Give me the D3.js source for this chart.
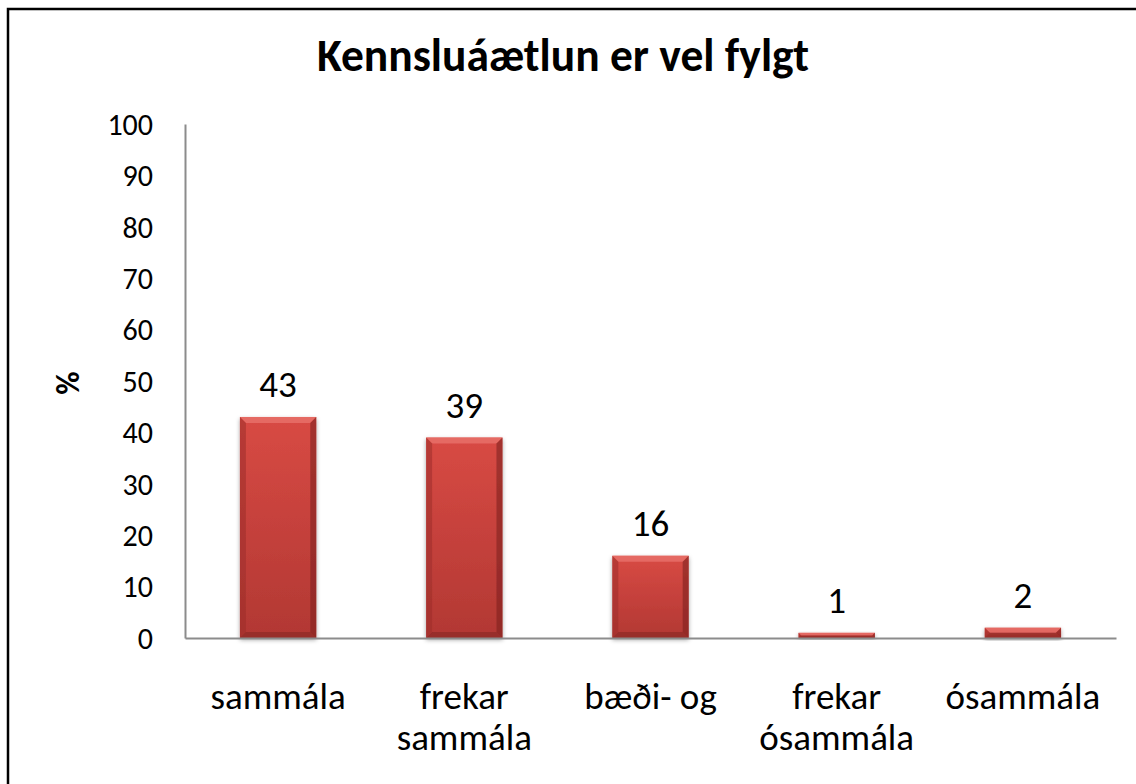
<!DOCTYPE html>
<html>
<head>
<meta charset="utf-8">
<script src="https://cdn.jsdelivr.net/npm/d3@7"></script>
<style>
  html, body { margin: 0; padding: 0; background: #fff; }
  svg { display: block; font-family: Carlito, Lato, 'Open Sans', sans-serif; }
</style>
</head>
<body>
<div id="wrapper"></div>
<script>
// data
const categories = ['sammála', 'frekar sammála', 'bæði- og', 'frekar ósammála', 'ósammála'];
const categoryLines = [['sammála'], ['frekar', 'sammála'], ['bæði- og'], ['frekar', 'ósammála'], ['ósammála']];
const values = [43, 39, 16, 1, 2];
const yTicks = [0, 10, 20, 30, 40, 50, 60, 70, 80, 90, 100];
const title = 'Kennsluáætlun er vel fylgt';
const yLabel = '%';

// dimensions
const dimensions = {
  width: 1136,
  height: 784,
  margin: { top: 124, right: 20, bottom: 146, left: 185 },
};
dimensions.boundedWidth = dimensions.width - dimensions.margin.left - dimensions.margin.right;
dimensions.boundedHeight = dimensions.height - dimensions.margin.top - dimensions.margin.bottom;

const svg = d3.select('#wrapper').append('svg')
  .attr('width', dimensions.width)
  .attr('height', dimensions.height);

// outer frame
svg.append('rect')
  .attr('x', 8).attr('y', 9)
  .attr('width', 1200).attr('height', 900)
  .attr('fill', 'none').attr('stroke', '#000').attr('stroke-width', 2.5);

const defs = svg.append('defs');
const grad = defs.append('linearGradient').attr('id', 'barGrad')
  .attr('x1', 0).attr('y1', 0).attr('x2', 0).attr('y2', 1);
grad.append('stop').attr('offset', '0%').attr('stop-color', '#d84a44');
grad.append('stop').attr('offset', '100%').attr('stop-color', '#b23833');
const shadow = defs.append('filter').attr('id', 'shadow')
  .attr('x', '-20%').attr('y', '-20%').attr('width', '140%').attr('height', '140%');
shadow.append('feDropShadow').attr('dx', 0).attr('dy', 2).attr('stdDeviation', 2)
  .attr('flood-color', '#000').attr('flood-opacity', 0.35);

const bounds = svg.append('g')
  .attr('transform', `translate(${dimensions.margin.left},${dimensions.margin.top})`);

// scales
const xScale = d3.scaleBand()
  .domain(categories)
  .range([0, dimensions.boundedWidth])
  .paddingInner(0.59)
  .paddingOuter(0.295);

const yScale = d3.scaleLinear()
  .domain([0, 100])
  .range([dimensions.boundedHeight, 0]);

// bars with bevel
const bw = xScale.bandwidth();
const bars = bounds.selectAll('.bar')
  .data(values)
  .enter().append('g')
  .attr('class', 'bar')
  .attr('transform', (d, i) => `translate(${xScale(categories[i])},${yScale(d)})`)
  .attr('filter', 'url(#shadow)');

bars.append('rect')
  .attr('width', bw)
  .attr('height', (d) => yScale(0) - yScale(d))
  .attr('fill', 'url(#barGrad)');

bars.each(function (d) {
  const h = yScale(0) - yScale(d);
  const b = Math.min(6, h / 2);
  const g = d3.select(this);
  // top bevel
  g.append('path')
    .attr('d', `M0,0 L${bw},0 L${bw - b},${b} L${b},${b} Z`)
    .attr('fill', '#e8726b').attr('opacity', 0.8);
  // left bevel
  g.append('path')
    .attr('d', `M0,0 L${b},${b} L${b},${h - b} L0,${h} Z`)
    .attr('fill', '#9c2e2a').attr('opacity', 0.55);
  // right bevel
  g.append('path')
    .attr('d', `M${bw},0 L${bw - b},${b} L${bw - b},${h - b} L${bw},${h} Z`)
    .attr('fill', '#7e221f').attr('opacity', 0.6);
  // bottom bevel
  g.append('path')
    .attr('d', `M0,${h} L${b},${h - b} L${bw - b},${h - b} L${bw},${h} Z`)
    .attr('fill', '#7e221f').attr('opacity', 0.5);
});

// value labels
bounds.selectAll('.value-label')
  .data(values)
  .enter().append('text')
  .attr('class', 'value-label')
  .attr('x', (d, i) => xScale(categories[i]) + bw / 2)
  .attr('y', (d) => yScale(d) - 20)
  .attr('text-anchor', 'middle')
  .attr('font-size', 37)
  .attr('fill', '#000')
  .text((d) => d);

// axes
const yAxis = bounds.append('g')
  .call(d3.axisLeft(yScale).tickValues(yTicks).tickSize(0).tickPadding(32));
yAxis.attr('font-family', null).attr('font-size', null);
yAxis.select('.domain').attr('stroke', '#8c8c8c').attr('stroke-width', 2);
yAxis.selectAll('text').attr('font-size', 30).attr('fill', '#000').attr('dy', '0.34em');

const xAxis = bounds.append('g')
  .attr('transform', `translate(0,${dimensions.boundedHeight})`)
  .call(d3.axisBottom(xScale).tickSize(0).tickFormat(''));
xAxis.select('.domain').attr('stroke', '#8c8c8c').attr('stroke-width', 2);

// category labels
const catLabels = bounds.selectAll('.cat-label')
  .data(categoryLines)
  .enter().append('text')
  .attr('class', 'cat-label')
  .attr('x', (d, i) => xScale(categories[i]) + bw / 2)
  .attr('y', dimensions.boundedHeight + 71)
  .attr('text-anchor', 'middle')
  .attr('font-size', 37)
  .attr('fill', '#000');
catLabels.selectAll('tspan')
  .data((d) => d)
  .enter().append('tspan')
  .attr('x', function () { return d3.select(this.parentNode).attr('x'); })
  .attr('dy', (d, i) => (i === 0 ? 0 : 41))
  .text((d) => d);

// title
svg.append('text')
  .attr('x', 563)
  .attr('y', 71)
  .attr('text-anchor', 'middle')
  .attr('font-size', 45.5)
  .attr('font-weight', 'bold')
  .text(title);

// y axis label
svg.append('text')
  .attr('transform', 'translate(79,383) rotate(-90)')
  .attr('text-anchor', 'middle')
  .attr('font-size', 32)
  .attr('font-weight', 'bold')
  .text(yLabel);
</script>
</body>
</html>
